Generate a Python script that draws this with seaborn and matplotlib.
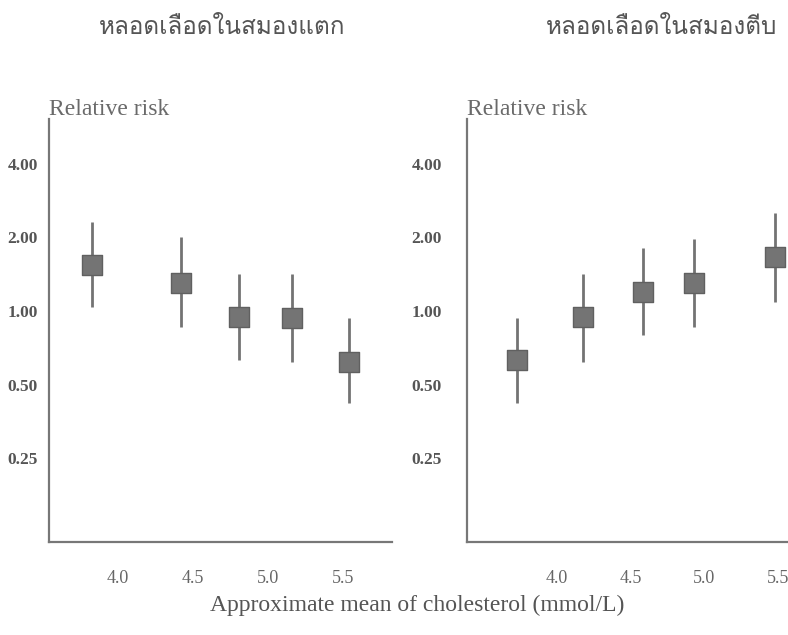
import matplotlib
matplotlib.use("Agg")
import matplotlib.pyplot as plt
from matplotlib import font_manager
from matplotlib.ft2font import FT2Font
import seaborn as sns
import pandas as pd

# relative risk by approximate mean cholesterol
left_title = "หลอดเลือดในสมองแตก"
right_title = "หลอดเลือดในสมองตีบ"

left_x = [3.83, 4.42, 4.81, 5.16, 5.54]
left_rr = [1.54, 1.30, 0.945, 0.94, 0.62]
left_lo = [1.04, 0.86, 0.63, 0.62, 0.42]
left_hi = [2.32, 2.00, 1.42, 1.42, 0.94]

right_x = [3.73, 4.18, 4.585, 4.93, 5.48]
right_rr = [0.63, 0.945, 1.20, 1.30, 1.66]
right_lo = [0.42, 0.62, 0.80, 0.86, 1.09]
right_hi = [0.94, 1.42, 1.81, 1.97, 2.52]

y_ticks = [0.25, 0.5, 1.0, 2.0, 4.0]
y_labels = ["0.25", "0.50", "1.00", "2.00", "4.00"]
x_ticks = [4.0, 4.5, 5.0, 5.5]
x_labels = ["4.0", "4.5", "5.0", "5.5"]


def find_thai_font():
    # look for any installed font that has Thai glyphs
    for f in font_manager.fontManager.ttflist:
        try:
            cmap = FT2Font(f.fname).get_charmap()
        except Exception:
            continue
        if 0x0E2B in cmap and 0x0E14 in cmap:
            return f.name
    return None


sns.set_theme(style="white")
serif = ["Liberation Serif", "DejaVu Serif"]
thai = find_thai_font()
thai_family = [thai, "DejaVu Sans"] if thai else ["DejaVu Sans"]

fig = plt.figure(figsize=(7.88, 6.35), dpi=100)
ax_l = fig.add_axes([0.0622, 0.1465, 0.4353, 0.6661])
ax_r = fig.add_axes([0.5926, 0.1465, 0.4074, 0.6661])

panels = [
    (ax_l, left_x, left_rr, left_lo, left_hi, (3.54, 5.83), 8),
    (ax_r, right_x, right_rr, right_lo, right_hi, (3.39, 5.57), 18),
]

for ax, xs, rr, lo, hi, xlim, ypad in panels:
    df = pd.DataFrame({"chol": xs, "rr": rr, "lo": lo, "hi": hi})
    ax.vlines(df["chol"], df["lo"], df["hi"], color="#737373", lw=2, zorder=2)
    sns.scatterplot(data=df, x="chol", y="rr", marker="s", s=200,
                    color="#747474", edgecolor="#606060", linewidth=1,
                    ax=ax, zorder=3, legend=False)
    ax.set_yscale("log")
    ax.set_ylim(0.1133, 6.11)
    ax.set_xlim(*xlim)
    ax.set_yticks(y_ticks)
    ax.set_yticklabels(y_labels)
    ax.minorticks_off()
    ax.set_yticks([], minor=True)
    ax.set_xticks(x_ticks)
    ax.set_xticklabels(x_labels)
    ax.set_xlabel("")
    ax.set_ylabel("")
    ax.tick_params(axis="y", length=0, pad=ypad, labelsize=12.5,
                   labelcolor="#555555")
    ax.tick_params(axis="x", length=0, pad=20, labelsize=13,
                   labelcolor="#666666")
    for lab in ax.get_yticklabels():
        lab.set_fontfamily(serif)
        lab.set_fontweight("bold")
    for lab in ax.get_xticklabels():
        lab.set_fontfamily(serif)
    for side in ["top", "right"]:
        ax.spines[side].set_visible(False)
    for side in ["left", "bottom"]:
        ax.spines[side].set_color("#777777")
        ax.spines[side].set_linewidth(1.6)
    ax.text(0.0, 0.01, "Relative risk", transform=ax.transAxes,
            ha="left", va="baseline", fontsize=17, color="#6a6a6a",
            family=serif)
    # move the label up to sit just above the axis top
    ax.texts[-1].set_y(1.01)

fig.text(222 / 788, 1 - 28 / 635, left_title, ha="center", va="center",
         fontsize=17.5, color="#555555", family=thai_family)
fig.text(662 / 788, 1 - 28 / 635, right_title, ha="center", va="center",
         fontsize=17.5, color="#555555", family=thai_family)
fig.text(417 / 788, 1 - 605 / 635,
         "Approximate mean of cholesterol (mmol/L)", ha="center",
         va="center", fontsize=17, color="#555555", family=serif)

fig.savefig("out.png", dpi=100)
